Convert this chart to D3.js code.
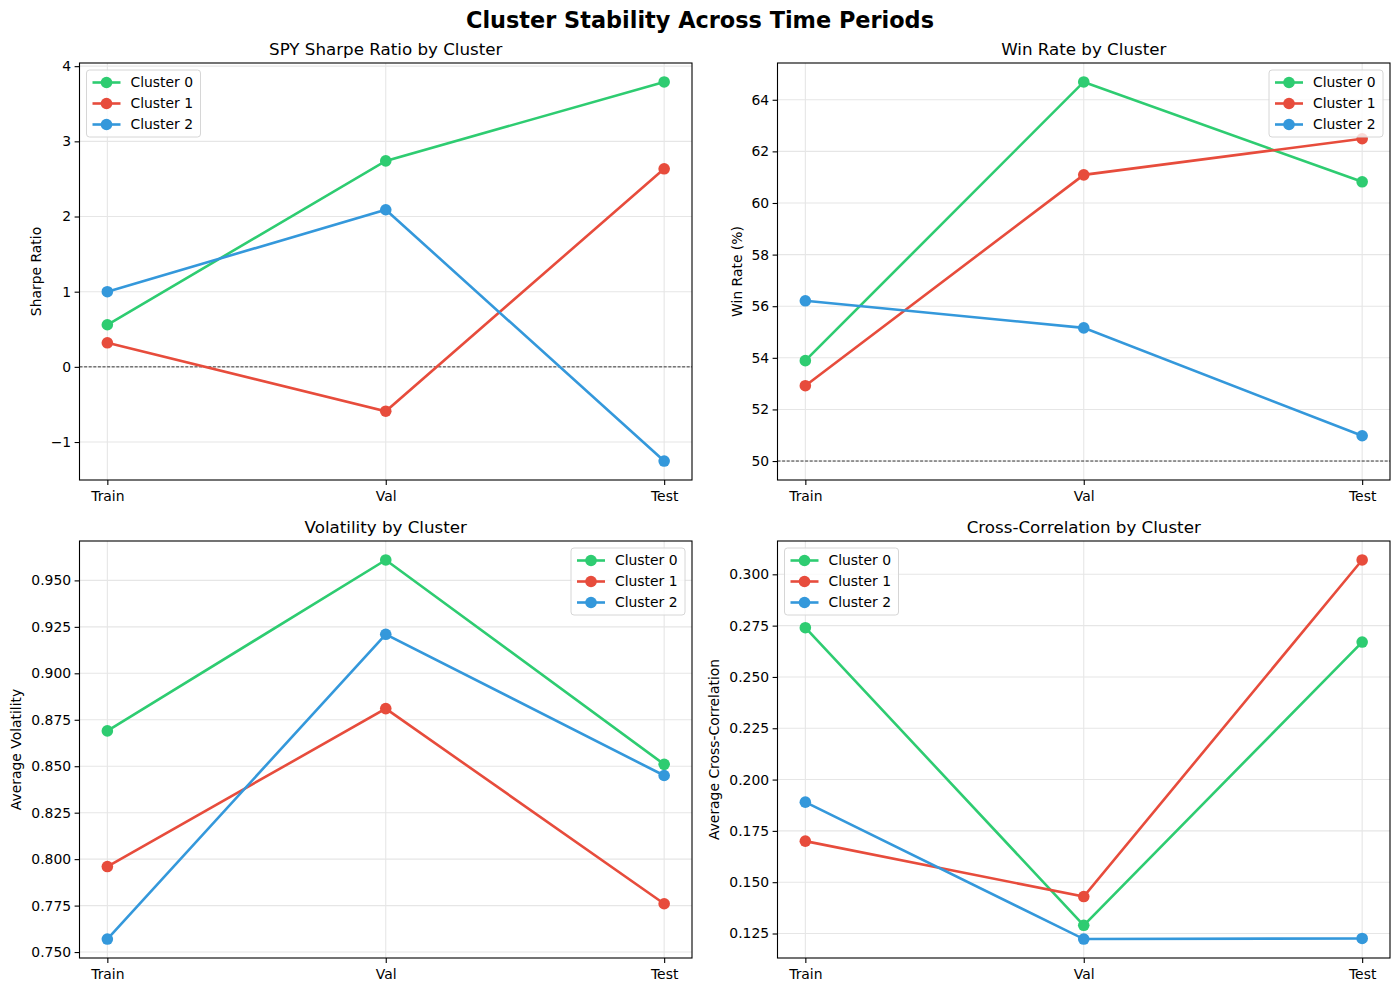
<!DOCTYPE html>
<html>
<head>
<meta charset="utf-8">
<script src="https://cdn.jsdelivr.net/npm/d3@7"></script>
<style>
  body { margin: 0; background: #fff; }
  svg { font-family: "DejaVu Sans", sans-serif; }
</style>
</head>
<body>
<svg id="chart" width="1400" height="992"></svg>
<script>
// chart data
const periods = ['Train', 'Val', 'Test'];
const clusters = ['Cluster 0', 'Cluster 1', 'Cluster 2'];
const clusterColors = ['#2ecc71', '#e74c3c', '#3498db'];

const sharpe = [[0.56, 2.74, 3.79], [0.32, -0.59, 2.635], [1.00, 2.09, -1.253]];
const winRate = [[53.89, 64.69, 60.82], [52.92, 61.09, 62.49], [56.21, 55.16, 50.98]];
const volatility = [[0.869, 0.961, 0.851], [0.796, 0.881, 0.776], [0.757, 0.921, 0.845]];
const crossCorr = [[0.274, 0.129, 0.267], [0.170, 0.143, 0.307], [0.189, 0.1223, 0.1226]];

const sharpeTicks = [-1, 0, 1, 2, 3, 4];
const winRateTicks = [50, 52, 54, 56, 58, 60, 62, 64];
const volatilityTicks = [0.750, 0.775, 0.800, 0.825, 0.850, 0.875, 0.900, 0.925, 0.950];
const crossCorrTicks = [0.125, 0.150, 0.175, 0.200, 0.225, 0.250, 0.275, 0.300];

const svg = d3.select('#chart');

svg.append('text')
  .attr('x', 700).attr('y', 28)
  .attr('text-anchor', 'middle')
  .style('font-size', '22.4px').style('font-weight', 'bold')
  .text('Cluster Stability Across Time Periods');

const panels = [
  { title: 'SPY Sharpe Ratio by Cluster', ylabel: 'Sharpe Ratio', data: sharpe, ticks: sharpeTicks,
    fmt: d => d3.format('d')(d).replace('-', '\u2212'), ref: 0, legend: 'left',
    x0: 79.5, x1: 692, y0: 63, y1: 480, labelX: 36 },
  { title: 'Win Rate by Cluster', ylabel: 'Win Rate (%)', data: winRate, ticks: winRateTicks,
    fmt: d3.format('d'), ref: 50, legend: 'right',
    x0: 777.5, x1: 1390, y0: 63, y1: 480, labelX: 737 },
  { title: 'Volatility by Cluster', ylabel: 'Average Volatility', data: volatility, ticks: volatilityTicks,
    fmt: d3.format('.3f'), ref: null, legend: 'right',
    x0: 79.5, x1: 692, y0: 541, y1: 958, labelX: 16 },
  { title: 'Cross-Correlation by Cluster', ylabel: 'Average Cross-Correlation', data: crossCorr, ticks: crossCorrTicks,
    fmt: d3.format('.3f'), ref: null, legend: 'left',
    x0: 777.5, x1: 1390, y0: 541, y1: 958, labelX: 714 }
];

panels.forEach(p => drawPanel(p));

function drawPanel(p) {
  const g = svg.append('g');

  // matplotlib-like 5% margins
  const xs = d3.scaleLinear().domain([-0.1, 2.1]).range([p.x0, p.x1]);
  const vals = p.data.flat();
  if (p.ref !== null) vals.push(p.ref);
  const [lo, hi] = d3.extent(vals);
  const pad = (hi - lo) * 0.05;
  const ys = d3.scaleLinear().domain([lo - pad, hi + pad]).range([p.y1, p.y0]);

  // grid
  g.append('g').selectAll('line').data(p.ticks).join('line')
    .attr('x1', p.x0).attr('x2', p.x1)
    .attr('y1', d => ys(d)).attr('y2', d => ys(d))
    .attr('stroke', '#e6e6e6').attr('stroke-width', 1.1);
  g.append('g').selectAll('line').data(periods).join('line')
    .attr('x1', (d, i) => xs(i)).attr('x2', (d, i) => xs(i))
    .attr('y1', p.y0).attr('y2', p.y1)
    .attr('stroke', '#e6e6e6').attr('stroke-width', 1.1);

  // reference line
  if (p.ref !== null) {
    g.append('line')
      .attr('x1', p.x0).attr('x2', p.x1)
      .attr('y1', ys(p.ref)).attr('y2', ys(p.ref))
      .attr('stroke', '#222').attr('stroke-width', 0.9)
      .attr('stroke-dasharray', '3,1.6');
  }

  // series
  const line = d3.line().x((d, i) => xs(i)).y(d => ys(d));
  p.data.forEach((series, k) => {
    g.append('path').datum(series)
      .attr('d', line)
      .attr('fill', 'none')
      .attr('stroke', clusterColors[k])
      .attr('stroke-width', 2.6);
    g.append('g').selectAll('circle').data(series).join('circle')
      .attr('cx', (d, i) => xs(i)).attr('cy', d => ys(d))
      .attr('r', 5.8)
      .attr('fill', clusterColors[k]);
  });

  // axes
  const xAxis = d3.axisBottom(xs).tickValues([0, 1, 2])
    .tickFormat(i => periods[i]).tickSize(4.9).tickPadding(6.5);
  const xg = g.append('g').attr('transform', `translate(0,${p.y1})`).call(xAxis);
  const yAxis = d3.axisLeft(ys).tickValues(p.ticks).tickFormat(p.fmt)
    .tickSize(4.9).tickPadding(3.5);
  const yg = g.append('g').attr('transform', `translate(${p.x0},0)`).call(yAxis);
  [xg, yg].forEach(a => {
    a.select('.domain').remove();
    a.selectAll('.tick line').attr('stroke', '#000').attr('stroke-width', 1.1);
    a.selectAll('.tick text')
      .style('font-size', '13.9px')
      .style('font-family', '"DejaVu Sans", sans-serif')
      .attr('fill', '#000');
  });

  // frame
  g.append('rect')
    .attr('x', p.x0).attr('y', p.y0)
    .attr('width', p.x1 - p.x0).attr('height', p.y1 - p.y0)
    .attr('fill', 'none').attr('stroke', '#000').attr('stroke-width', 1.1);

  // titles
  g.append('text')
    .attr('x', (p.x0 + p.x1) / 2).attr('y', p.y0 - 8)
    .attr('text-anchor', 'middle')
    .style('font-size', '16.7px')
    .text(p.title);
  g.append('text')
    .attr('transform', `translate(${p.labelX},${(p.y0 + p.y1) / 2}) rotate(-90)`)
    .attr('text-anchor', 'middle')
    .attr('dy', '0.35em')
    .style('font-size', '13.9px')
    .text(p.ylabel);

  // legend
  const lw = 114, lh = 67;
  const lx = p.legend === 'left' ? p.x0 + 7 : p.x1 - 7 - lw;
  const ly = p.y0 + 7;
  const lg = g.append('g').attr('transform', `translate(${lx},${ly})`);
  lg.append('rect')
    .attr('width', lw).attr('height', lh).attr('rx', 3)
    .attr('fill', 'rgba(255,255,255,0.8)')
    .attr('stroke', '#d6d6d6').attr('stroke-width', 1);
  clusters.forEach((name, k) => {
    const ry = 12.5 + k * 21;
    lg.append('line')
      .attr('x1', 6).attr('x2', 34).attr('y1', ry).attr('y2', ry)
      .attr('stroke', clusterColors[k]).attr('stroke-width', 2.6);
    lg.append('circle').attr('cx', 20).attr('cy', ry).attr('r', 5.8)
      .attr('fill', clusterColors[k]);
    lg.append('text')
      .attr('x', 44).attr('y', ry).attr('dy', '0.35em')
      .style('font-size', '13.9px')
      .text(name);
  });
}
</script>
</body>
</html>
